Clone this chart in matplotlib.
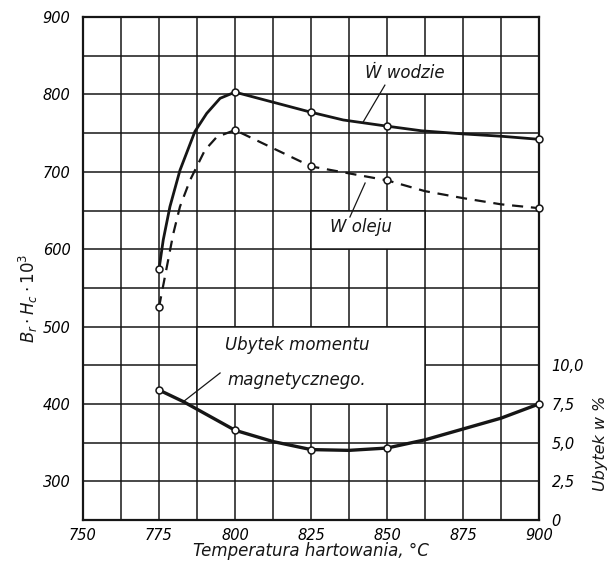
import matplotlib
matplotlib.use("Agg")
import matplotlib.pyplot as plt
import numpy as np
from matplotlib.patches import Rectangle

# measured points (circles on the chart)
temp = [775, 800, 825, 850, 900]
w_wodzie = [574, 803, 777, 759, 742]
w_oleju = [525, 754, 707, 689, 653]
ubytek = [8.4, 5.8, 4.55, 4.65, 7.5]          # right axis, %

# hand-drawn curves
wodzie_t = [775, 776.4, 778.6, 781.9, 786.8, 790.7, 795.1, 800,
            825, 835.6, 850, 861.4, 875, 887.5, 900]
wodzie_v = [574, 612, 655, 702, 752, 775.5, 795, 803,
            777, 767, 759, 753, 749, 746, 742]
oleju_t = [775, 779.7, 781.9, 785.2, 790.1, 794, 800,
           825, 850, 862.5, 875, 887.5, 900]
oleju_v = [525, 620, 655, 689, 728, 745, 754,
           707, 689, 675, 666, 658, 653]
ubytek_t = [775, 783, 800, 812.5, 825, 837.5, 850, 862.5, 887.5, 900]
ubytek_v = [8.4, 7.65, 5.8, 5.07, 4.55, 4.5, 4.65, 5.18, 6.58, 7.5]

x_ticks = [750, 775, 800, 825, 850, 875, 900]
y_ticks = [300, 400, 500, 600, 700, 800, 900]
r_ticks = [0, 2.5, 5.0, 7.5, 10.0]
r_labels = ["0", "2,5", "5,0", "7,5", "10,0"]

INK = "#161616"

fig = plt.figure(figsize=(6.08, 5.67), dpi=100)
ax = fig.add_axes([0.1365, 0.0829, 0.75, 0.887])
ax.set_xlim(750, 900)
ax.set_ylim(250, 900)

ax.set_xticks(x_ticks)
ax.set_xticks(np.arange(750, 901, 12.5), minor=True)
ax.set_yticks(y_ticks)
ax.set_yticks(np.arange(250, 901, 50), minor=True)
ax.grid(which="both", color=INK, lw=1.1, zorder=1)
ax.set_axisbelow(True)
ax.tick_params(which="both", length=0)
ax.tick_params(axis="x", pad=6)
ax.tick_params(axis="y", pad=9)
for lab in ax.get_xticklabels() + ax.get_yticklabels():
    lab.set_fontstyle("italic")
    lab.set_fontsize(10.5)
for side in ax.spines.values():
    side.set_color(INK)
    side.set_linewidth(1.6)

# white label boxes that blank out the grid underneath
for (x0, y0, w, h) in [(837.5, 800, 37.5, 50), (825, 600, 37.5, 50),
                       (787.5, 400, 75, 100)]:
    ax.add_patch(Rectangle((x0, y0), w, h, facecolor="white",
                           edgecolor=INK, lw=1.1, zorder=2))

ax.plot(wodzie_t, wodzie_v, color=INK, lw=2.0, zorder=4, clip_on=False)
ax.plot(oleju_t, oleju_v, color=INK, lw=1.6, ls=(0, (5, 3.5)), zorder=4,
        clip_on=False)
ax.plot(temp, w_wodzie, "o", ms=5, mfc="white", mec=INK, mew=1.1, zorder=5,
        clip_on=False)
ax.plot(temp, w_oleju, "o", ms=5, mfc="white", mec=INK, mew=1.1, zorder=5,
        clip_on=False)

ax2 = ax.twinx()
ax2.set_ylim(0, 32.5)
ax2.set_yticks(r_ticks)
ax2.set_yticklabels(r_labels, fontstyle="italic", fontsize=10.5)
ax2.tick_params(length=0, pad=9)
for side in ax2.spines.values():
    side.set_visible(False)
ax2.plot(ubytek_t, ubytek_v, color=INK, lw=2.4, zorder=4, clip_on=False)
ax2.plot(temp, ubytek, "o", ms=5, mfc="white", mec=INK, mew=1.1, zorder=5,
         clip_on=False)

# annotations with leader lines
txt = dict(fontstyle="italic", fontsize=12, color=INK, zorder=6)
ax.text(842.8, 828, "Ẇ wodzie", ha="left", va="center", **txt)
ax.plot([849.3, 842.1], [812, 764], color=INK, lw=0.9, zorder=6)
ax.text(831.3, 629, "W oleju", ha="left", va="center", **txt)
ax.plot([837.8, 842.8], [641.6, 685.5], color=INK, lw=0.9, zorder=6)
ax.text(796.7, 476, "Ubytek momentu", ha="left", va="center", **txt)
ax.text(797.4, 431, "magnetycznego.", ha="left", va="center", **txt)
ax.plot([795.1, 782.9], [440, 402.6], color=INK, lw=0.9, zorder=6)

fig.text(0.046, 1 - 298 / 567, r"$B_r \cdot H_c \cdot 10^3$", rotation=90,
         ha="center", va="center", fontsize=12, color=INK)
fig.text(600 / 608, 1 - 443 / 567, "Ubytek w %", rotation=90,
         ha="center", va="center", fontsize=11.5, fontstyle="italic",
         color=INK)
fig.text(311 / 608, 1 - 551 / 567, "Temperatura hartowania, °C",
         ha="center", va="center", fontsize=12, fontstyle="italic",
         color=INK)

fig.savefig("out.png", dpi=100)
